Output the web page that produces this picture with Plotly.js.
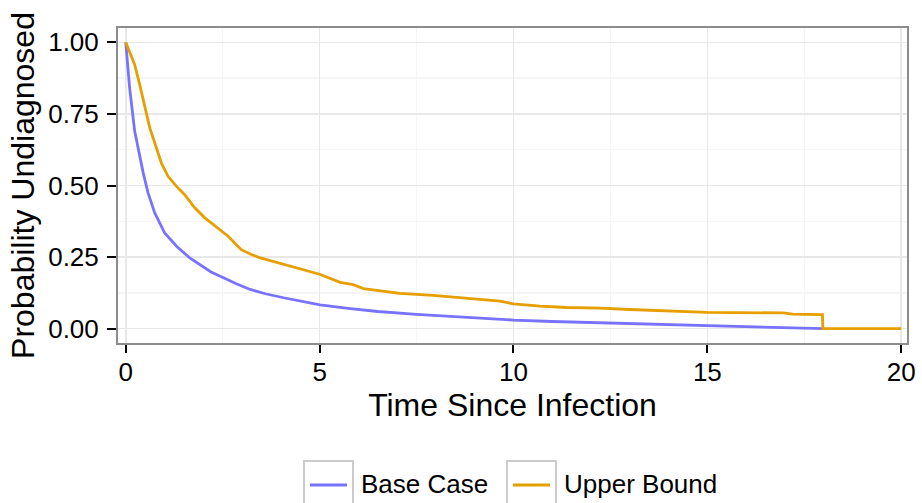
<!DOCTYPE html>
<html>
<head>
<meta charset="utf-8">
<script src="https://cdn.plot.ly/plotly-3.0.1.min.js"></script>
<style>html,body{margin:0;padding:0;background:#fff;}#chart{width:922px;height:503px;}</style>
</head>
<body>
<div id="chart"></div>
<script>
// Base Case curve
var baseTime = [0, 0.05, 0.10, 0.23, 0.36, 0.45, 0.575, 0.748, 1.005, 1.31, 1.65, 1.916, 2.2, 2.52, 2.85, 3.21, 3.6, 4.07, 4.5, 5.01, 5.79, 6.5, 7.5, 8.5, 10.0, 11.0, 12.23, 13.5, 15.0, 16.0, 16.8, 17.95, 18.0];
var baseProb = [1.0, 0.922, 0.841, 0.69, 0.603, 0.544, 0.474, 0.404, 0.334, 0.288, 0.247, 0.224, 0.198, 0.178, 0.157, 0.137, 0.122, 0.108, 0.096, 0.083, 0.07, 0.06, 0.05, 0.041, 0.03, 0.025, 0.021, 0.016, 0.0115, 0.008, 0.004, 0.001, 0.0];
// Upper Bound curve
var upperTime = [0, 0.1, 0.23, 0.36, 0.49, 0.62, 0.79, 0.92, 1.09, 1.31, 1.52, 1.78, 2.04, 2.38, 2.64, 2.98, 3.24, 3.47, 4.07, 4.5, 4.84, 5.0, 5.53, 5.87, 6.13, 6.56, 7.07, 7.93, 8.97, 9.65, 10.0, 10.69, 11.37, 12.23, 13.0, 13.95, 14.99, 16.96, 17.2, 17.97, 17.98, 20.0];
var upperProb = [1.0, 0.963, 0.922, 0.852, 0.771, 0.701, 0.632, 0.578, 0.532, 0.497, 0.468, 0.422, 0.387, 0.352, 0.323, 0.276, 0.259, 0.247, 0.224, 0.207, 0.195, 0.19, 0.162, 0.154, 0.14, 0.132, 0.123, 0.116, 0.104, 0.096, 0.087, 0.079, 0.074, 0.072, 0.067, 0.061, 0.057, 0.055, 0.051, 0.049, 0.0, 0.0];

var seriesNames = ['Base Case', 'Upper Bound'];
var seriesColors = ['#7872FF', '#E69F00'];
var xTicks = [0, 5, 10, 15, 20];
var yTicks = [0, 0.25, 0.5, 0.75, 1.0];
var yTickText = ['0.00', '0.25', '0.50', '0.75', '1.00'];

var font = 'Liberation Sans, Arial, sans-serif';

var traces = [
  {x: baseTime, y: baseProb, name: seriesNames[0], type: 'scatter', mode: 'lines',
   line: {color: seriesColors[0], width: 2.8}},
  {x: upperTime, y: upperProb, name: seriesNames[1], type: 'scatter', mode: 'lines',
   line: {color: seriesColors[1], width: 2.8}}
];

var H = 315, W = 789, L = 118, T = 28;
function py(p){ return -(p - (T + H)) / H; }
function px(p){ return (p - L) / W; }

// manual legend: key boxes, key lines and labels
var legendBoxes = [[304, 353], [507, 556]];
var legendTextX = [359, 562];
var shapes = [], annotations = [];
legendBoxes.forEach(function(b, i){
  shapes.push({type:'rect', xref:'paper', yref:'paper', layer:'above',
    x0:px(b[0]), x1:px(b[1]), y0:py(509), y1:py(461),
    line:{color:'#CCCCCC', width:2}, fillcolor:'#FFFFFF'});
  shapes.push({type:'line', xref:'paper', yref:'paper', layer:'above',
    x0:px(b[0]+6), x1:px(b[1]-6), y0:py(485), y1:py(485),
    line:{color:seriesColors[i], width:2.8}});
  annotations.push({xref:'paper', yref:'paper', x:px(legendTextX[i]), y:py(484),
    xanchor:'left', yanchor:'middle', showarrow:false, text:seriesNames[i],
    font:{size:26, family:font, color:'#000000'}});
});

var layout = {
  width: 922, height: 503,
  margin: {l: L, r: 15, t: T, b: 160, autoexpand: false},
  paper_bgcolor: '#FFFFFF', plot_bgcolor: '#FFFFFF',
  font: {family: font, color: '#000000', size: 26},
  showlegend: false,
  shapes: shapes,
  annotations: annotations,
  xaxis: {
    range: [-0.2, 20.15], tickvals: xTicks, ticktext: xTicks.map(String),
    showgrid: true, gridcolor: '#E8E8E8', gridwidth: 1.5, zeroline: false, automargin: false,
    minor: {dtick: 2.5, tick0: 0, showgrid: true, gridcolor: '#F5F5F5', gridwidth: 1.5, ticklen: 0},
    showline: true, mirror: true, linecolor: '#8C8C8C', linewidth: 2,
    ticks: 'outside', ticklen: 8, tickwidth: 2, tickcolor: '#000000',
    tickfont: {size: 26}, ticklabelstandoff: -3,
    title: {text: 'Time Since Infection', font: {size: 32}, standoff: 1}
  },
  yaxis: {
    range: [-0.05, 1.05], tickvals: yTicks, ticktext: yTickText,
    showgrid: true, gridcolor: '#E8E8E8', gridwidth: 1.5, zeroline: false, automargin: false,
    minor: {dtick: 0.125, tick0: 0, showgrid: true, gridcolor: '#F5F5F5', gridwidth: 1.5, ticklen: 0},
    showline: true, mirror: true, linecolor: '#8C8C8C', linewidth: 2,
    ticks: 'outside', ticklen: 9, tickwidth: 2, tickcolor: '#000000',
    tickfont: {size: 26}, ticklabelstandoff: 3,
    title: {text: 'Probability Undiagnosed', font: {size: 32}, standoff: 4}
  }
};

Plotly.newPlot('chart', traces, layout, {displayModeBar: false, staticPlot: true});
</script>
</body>
</html>
